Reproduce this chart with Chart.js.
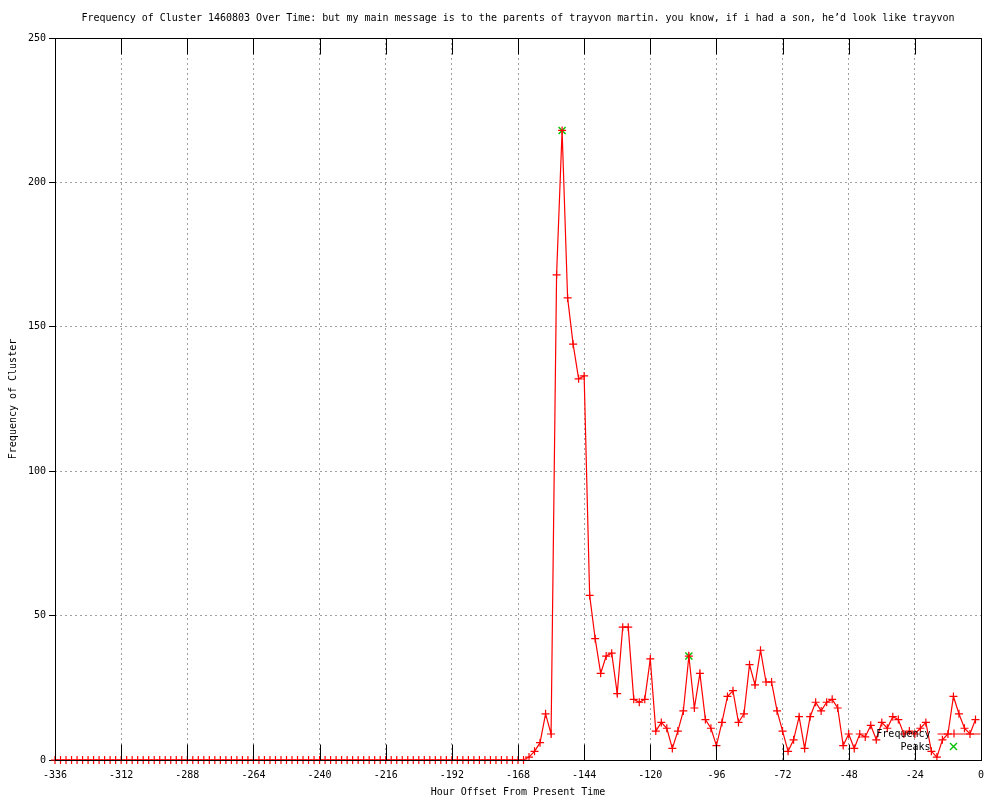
<!DOCTYPE html>
<html><head><meta charset="utf-8">
<script src="https://cdn.jsdelivr.net/npm/chart.js@4"></script>
<style>html,body{margin:0;padding:0;background:#fff}#wrap{width:1000px;height:800px}</style>
</head><body><div id="wrap"><canvas id="c" width="1000" height="800"></canvas></div>
<script>
const titleText = "Frequency of Cluster 1460803 Over Time: but my main message is to the parents of trayvon martin. you know, if i had a son, he’d look like trayvon";
const xLabel = "Hour Offset From Present Time";
const yLabel = "Frequency of Cluster";
const seriesNames = ["Frequency", "Peaks"];

const hours = [-336,-334,-332,-330,-328,-326,-324,-322,-320,-318,-316,-314,-312,-310,-308,-306,-304,-302,-300,-298,-296,-294,-292,-290,-288,-286,-284,-282,-280,-278,-276,-274,-272,-270,-268,-266,-264,-262,-260,-258,-256,-254,-252,-250,-248,-246,-244,-242,-240,-238,-236,-234,-232,-230,-228,-226,-224,-222,-220,-218,-216,-214,-212,-210,-208,-206,-204,-202,-200,-198,-196,-194,-192,-190,-188,-186,-184,-182,-180,-178,-176,-174,-172,-170,-168,-166,-164,-162,-160,-158,-156,-154,-152,-150,-148,-146,-144,-142,-140,-138,-136,-134,-132,-130,-128,-126,-124,-122,-120,-118,-116,-114,-112,-110,-108,-106,-104,-102,-100,-98,-96,-94,-92,-90,-88,-86,-84,-82,-80,-78,-76,-74,-72,-70,-68,-66,-64,-62,-60,-58,-56,-54,-52,-50,-48,-46,-44,-42,-40,-38,-36,-34,-32,-30,-28,-26,-24,-22,-20,-18,-16,-14,-12,-10,-8,-6,-4,-2];

const frequency = [
0,0,0,0,0,0,0,0,0,0,
0,0,0,0,0,0,0,0,0,0,
0,0,0,0,0,0,0,0,0,0,
0,0,0,0,0,0,0,0,0,0,
0,0,0,0,0,0,0,0,0,0,
0,0,0,0,0,0,0,0,0,0,
0,0,0,0,0,0,0,0,0,0,
0,0,0,0,0,0,0,0,0,0,
0,0,0,0,0,0,
1,3,6,16,9,168,218,160,144,132,
133,57,42,30,36,37,23,46,46,21,
20,21,35,10,13,11,4,10,17,36,
18,30,14,11,5,13,22,24,13,16,
33,26,38,27,27,17,10,3,7,15,
4,15,20,17,20,21,18,5,9,4,
9,8,12,7,13,11,15,14,9,10,
9,11,13,3,1,7,9,22,16,11,
9,14];

const peakHours = [-152, -106];
const peakValues = [218, 36];

const xTicks = [-336,-312,-288,-264,-240,-216,-192,-168,-144,-120,-96,-72,-48,-24,0];
const yTicks = [0,50,100,150,200,250];

const FONT = 'DejaVu Sans Mono';
Chart.defaults.font.family = FONT;
Chart.defaults.font.size = 10;
Chart.defaults.color = '#000';

const RED = '#ff0000';
const GREEN = '#00c000';
const GRIDC = '#a0a0a0';

const framePlugin = {
  id: 'frame',
  afterDraw(chart) {
    const {ctx, chartArea: a, scales: {x, y}} = chart;
    ctx.save();
    ctx.setLineDash([]);
    ctx.strokeStyle = '#000';
    ctx.lineWidth = 1;
    const L = Math.round(a.left) + 0.5, R = Math.round(a.right) + 0.5;
    const T = Math.round(a.top) + 0.5, B = Math.round(a.bottom) + 0.5;
    ctx.strokeRect(L, T, R - L, B - T);
    ctx.beginPath();
    xTicks.forEach(v => {
      const px = Math.round(x.getPixelForValue(v)) + 0.5;
      ctx.moveTo(px, B); ctx.lineTo(px, B - 16);
      ctx.moveTo(px, T); ctx.lineTo(px, T + 16);
    });
    ctx.stroke();

    // key
    const kx = R - 51, ky1 = B - 27, ky2 = B - 14;
    ctx.font = '10px ' + FONT;
    ctx.fillStyle = '#000';
    ctx.textAlign = 'right';
    ctx.textBaseline = 'middle';
    ctx.fillText(seriesNames[0], kx, ky1 + 1);
    ctx.fillText(seriesNames[1], kx, ky2 + 1);
    const sx = kx + 23;
    ctx.strokeStyle = RED;
    ctx.lineWidth = 1.2;
    ctx.beginPath();
    ctx.moveTo(kx + 7, ky1 + 0.5); ctx.lineTo(R - 1, ky1 + 0.5);
    ctx.moveTo(sx - 4, ky1 + 0.5); ctx.lineTo(sx + 4, ky1 + 0.5);
    ctx.moveTo(sx + 0.5, ky1 - 4); ctx.lineTo(sx + 0.5, ky1 + 4);
    ctx.stroke();
    ctx.strokeStyle = GREEN;
    ctx.lineWidth = 1.4;
    ctx.beginPath();
    ctx.moveTo(sx - 3.5, ky2 - 3.5); ctx.lineTo(sx + 3.5, ky2 + 3.5);
    ctx.moveTo(sx - 3.5, ky2 + 3.5); ctx.lineTo(sx + 3.5, ky2 - 3.5);
    ctx.stroke();
    ctx.restore();
  }
};

new Chart(document.getElementById('c'), {
  type: 'scatter',
  data: {
    datasets: [
      {
        label: seriesNames[0],
        data: hours.map((h, i) => ({x: h, y: frequency[i]})),
        showLine: true,
        borderColor: RED,
        borderWidth: 1.2,
        tension: 0,
        pointStyle: 'cross',
        pointRadius: 4,
        pointBorderColor: RED,
        pointBackgroundColor: RED,
        pointBorderWidth: 1.2,
        clip: false
      },
      {
        label: seriesNames[1],
        data: peakHours.map((h, i) => ({x: h, y: peakValues[i]})),
        showLine: false,
        pointStyle: 'crossRot',
        pointRadius: 5,
        pointBorderColor: GREEN,
        pointBackgroundColor: GREEN,
        pointBorderWidth: 1.4,
        clip: false
      }
    ]
  },
  options: {
    responsive: false,
    animation: false,
    devicePixelRatio: 1,
    layout: {padding: {left: 0, right: 19, top: 0, bottom: 0}},
    plugins: {
      legend: {display: false},
      tooltip: {enabled: false},
      title: {
        display: true,
        text: titleText,
        fullSize: false,
        color: '#000',
        font: {family: FONT, size: 10, weight: 'normal'},
        padding: {top: 12, bottom: 14}
      }
    },
    scales: {
      x: {
        type: 'linear',
        min: -336, max: 0,
        afterBuildTicks: s => { s.ticks = xTicks.map(v => ({value: v})); },
        afterFit: s => { s.height = 40; },
        ticks: {color: '#000', padding: 9, maxRotation: 0, autoSkip: false, font: {family: FONT, size: 10}},
        grid: {color: GRIDC, lineWidth: 1, drawTicks: false},
        border: {display: false, dash: [2, 3]},
        title: {display: true, text: xLabel, color: '#000', font: {family: FONT, size: 10}, padding: {top: 0, bottom: 2}}
      },
      y: {
        type: 'linear',
        min: 0, max: 250,
        afterBuildTicks: s => { s.ticks = yTicks.map(v => ({value: v})); },
        afterFit: s => { s.width = 55; },
        ticks: {color: '#000', padding: 3, font: {family: FONT, size: 10}},
        grid: {color: GRIDC, lineWidth: 1, drawTicks: true, tickLength: 6, tickColor: '#000', tickBorderDash: []},
        border: {display: false, dash: [2, 3]},
        title: {display: true, text: yLabel, color: '#000', font: {family: FONT, size: 10}, padding: {top: 7, bottom: 0}}
      }
    }
  },
  plugins: [framePlugin]
});
</script>
</body></html>
